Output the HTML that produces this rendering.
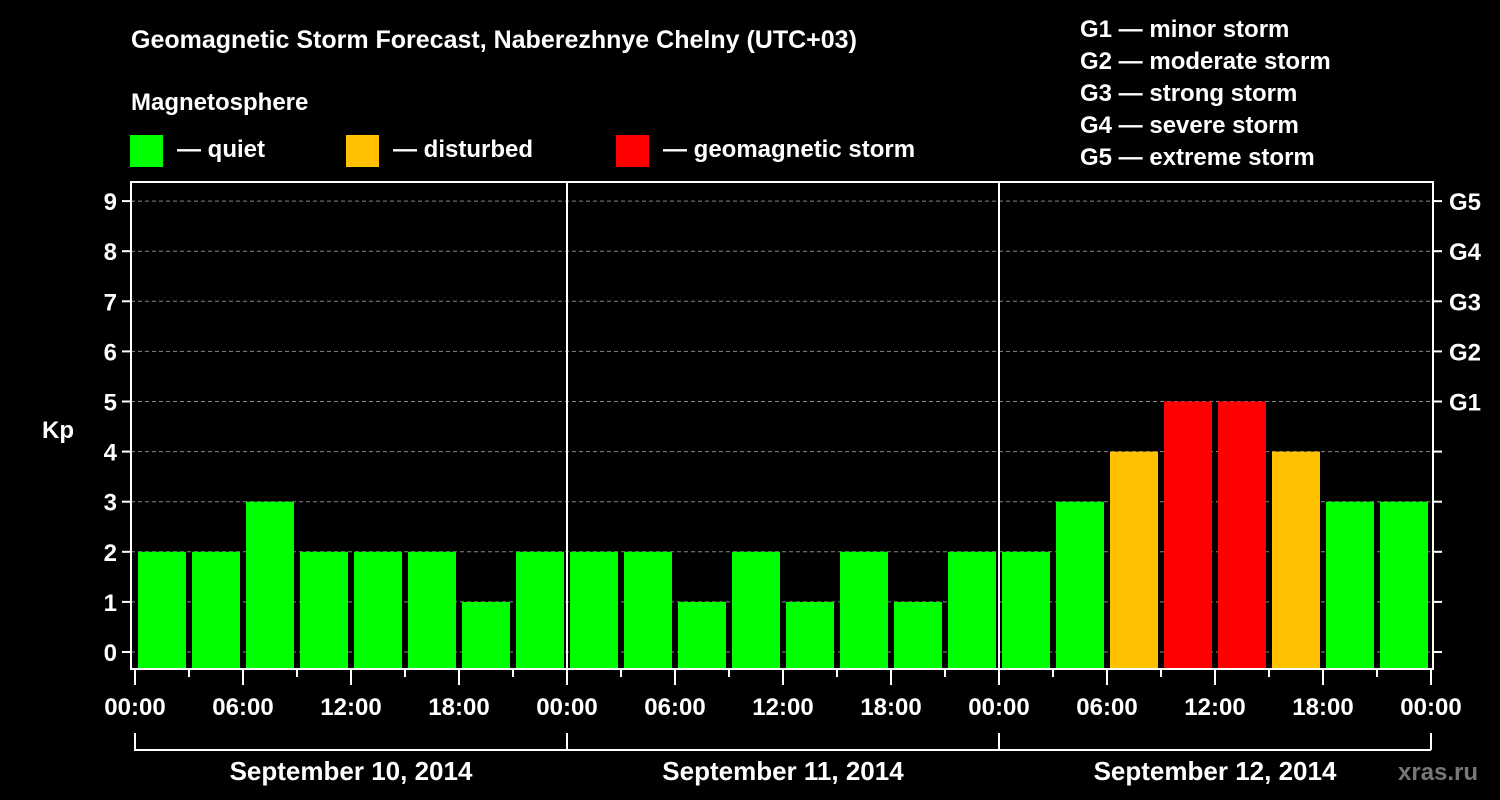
<!DOCTYPE html>
<html><head><meta charset="utf-8"><style>
html,body{margin:0;padding:0;background:#000;}
svg{display:block;font-family:"Liberation Sans",sans-serif;font-weight:bold;}
</style></head><body>
<svg id="chart" width="1500" height="800" viewBox="0 0 1500 800">
<rect width="1500" height="800" fill="#000"/>
<text x="131" y="48" font-size="25" fill="#fff">Geomagnetic Storm Forecast, Naberezhnye Chelny (UTC+03)</text>
<text x="131" y="110" font-size="24" fill="#fff">Magnetosphere</text>
<g><rect x="130" y="135" width="33" height="32" fill="#00ff00"/><text x="177" y="157" font-size="24" fill="#fff">— quiet</text></g>
<g><rect x="346" y="135" width="33" height="32" fill="#ffc000"/><text x="393" y="157" font-size="24" fill="#fff">— disturbed</text></g>
<g><rect x="616" y="135" width="33" height="32" fill="#ff0000"/><text x="663" y="157" font-size="24" fill="#fff">— geomagnetic storm</text></g>
<g font-size="24" fill="#fff">
<text x="1080" y="37">G1 — minor storm</text>
<text x="1080" y="69">G2 — moderate storm</text>
<text x="1080" y="101">G3 — strong storm</text>
<text x="1080" y="133">G4 — severe storm</text>
<text x="1080" y="165">G5 — extreme storm</text>
</g>
<text x="42" y="438" font-size="24" fill="#fff">Kp</text>
<text x="1398" y="780" font-size="24" fill="#777">xras.ru</text>
<g id="plot"></g>
</svg>
<script>
const kpValues = [2,2,3,2,2,2,1,2, 2,2,1,2,1,2,1,2, 2,3,4,5,5,4,3,3];
const yTicks = [0,1,2,3,4,5,6,7,8,9];
const gLabels = ["G1","G2","G3","G4","G5"];
const gLevels = [5,6,7,8,9];
const dayLabels = ["September 10, 2014","September 11, 2014","September 12, 2014"];
const hourLabels = ["00:00","06:00","12:00","18:00"];

const NS="http://www.w3.org/2000/svg";
const g=document.getElementById('plot');
const X0=135, SLOT=54, Y0=652, UNIT=50.1;
const L=131, R=1433, T=182, B=669;
const xs=i=>X0+i*SLOT;
const ys=v=>Y0-v*UNIT;
function mk(tag,attrs,parent){const e=document.createElementNS(NS,tag);for(const k in attrs)e.setAttribute(k,attrs[k]);(parent||g).appendChild(e);return e;}
// grid
yTicks.forEach(v=>{
  const l=mk('line',{x1:L,x2:R,y1:ys(v),y2:ys(v),stroke:'#888','stroke-width':1,'stroke-dasharray':'4,3'});
  
  
});
// bars
kpValues.forEach((v,i)=>{
  const c=v>=5?'#ff0000':(v>=4?'#ffc000':'#00ff00');
  const r=mk('rect',{x:xs(i)+3,y:ys(v),width:SLOT-6,height:B-ys(v),fill:c});
  
  
});
// frame
const f=mk('rect',{x:L,y:T,width:R-L,height:B-T,fill:'none',stroke:'#fff','stroke-width':2});


// day separators
for(let d=1;d<3;d++){
  const l=mk('line',{x1:xs(d*8),x2:xs(d*8),y1:T,y2:B,stroke:'#fff','stroke-width':2});
  
  
}
// y ticks
yTicks.forEach(v=>{
  mk('line',{x1:L-9,x2:L,y1:ys(v),y2:ys(v),stroke:'#fff','stroke-width':2});
  mk('line',{x1:R,x2:R+9,y1:ys(v),y2:ys(v),stroke:'#fff','stroke-width':2});
  const t=mk('text',{x:L-14,y:ys(v)+9,'text-anchor':'end','font-size':24,fill:'#fff'});
  t.textContent=v;
  
  
});
gLabels.forEach((s,i)=>{
  const t=mk('text',{x:R+16,y:ys(gLevels[i])+9,'font-size':24,fill:'#fff'});
  t.textContent=s;
  
  
});
// x ticks
for(let i=0;i<=24;i++){
  const major=i%2===0;
  mk('line',{x1:xs(i),x2:xs(i),y1:B,y2:B+(major?16:8),stroke:'#fff','stroke-width':2});
  if(major){
    const t=mk('text',{x:xs(i),y:715,'text-anchor':'middle','font-size':24,fill:'#fff'});
    t.textContent=hourLabels[(i/2)%4];
    
    
  }
}
// day brackets
dayLabels.forEach((s,d)=>{
  const a=xs(d*8), b=xs(d*8+8);
  mk('path',{d:`M${a} 733V750H${b}`,fill:'none',stroke:'#fff','stroke-width':2});
  const t=mk('text',{x:(a+b)/2,y:780,'text-anchor':'middle','font-size':26,fill:'#fff'});
  t.textContent=s;
  
  
});
mk('line',{x1:xs(24),x2:xs(24),y1:733,y2:750,stroke:'#fff','stroke-width':2});
</script>
</body></html>
